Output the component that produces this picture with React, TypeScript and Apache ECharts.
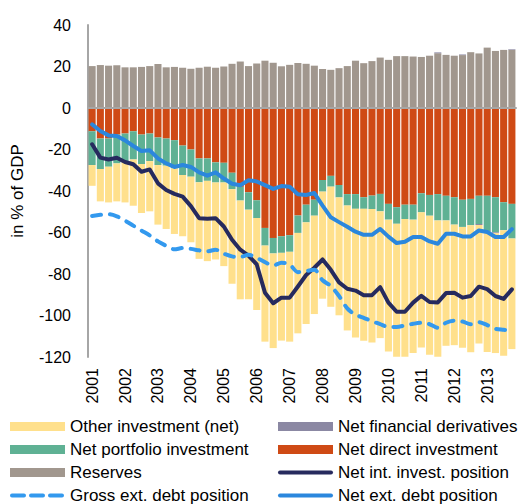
import React, { useEffect, useRef } from "react";
import * as echarts from "echarts";

const years = ["2001", "2002", "2003", "2004", "2005", "2006", "2007", "2008", "2009", "2010", "2011", "2012", "2013"];
const quarterNames = ["Q1", "Q2", "Q3", "Q4"];

const reserves = [
  20.2, 20.7, 20.4, 20.6, 19.6, 19.6, 19.8, 20.2, 21.2, 19.6, 19.8, 19.4, 18.9,
  19.4, 19.9, 19.4, 20.0, 21.3, 22.4, 20.2, 21.5, 22.8, 21.8, 20.1, 20.8, 21.7,
  21.3, 20.4, 18.8, 18.4, 19.2, 20.2, 22.8, 21.6, 22.6, 24.3, 23.2, 25.0, 25.0,
  24.8, 24.6, 25.2, 26.4, 25.6, 25.2, 25.5, 26.9, 26.3, 29.1, 27.5, 28.0, 28.0,
];
const directInvestment = [
  -11.2, -14.7, -14.7, -12.8, -12.3, -11.2, -12.8, -12.3, -14.2, -14.7, -15.5, -18.1, -20.0,
  -24.3, -24.3, -26.2, -26.4, -31.2, -38.0, -40.6, -44.4, -57.8, -62.6, -61.8, -61.3, -51.8,
  -46.6, -44.2, -34.7, -32.7, -37.1, -41.5, -41.5, -43.0, -42.2, -41.4, -46.2, -47.8, -46.6,
  -46.6, -41.1, -41.9, -41.5, -42.3, -43.0, -44.2, -43.8, -42.3, -42.3, -43.0, -45.4, -46.2,
];
const portfolioInvestment = [
  -16.3, -14.7, -13.6, -13.9, -13.6, -13.6, -14.2, -13.3, -13.3, -13.1, -13.6, -14.2, -13.1,
  -11.5, -10.8, -9.7, -9.5, -7.9, -6.6, -8.4, -8.6, -8.5, -7.5, -8.0, -8.0, -8.4,
  -8.5, -7.7, -5.6, -5.2, -6.0, -5.5, -7.1, -5.6, -6.5, -8.4, -7.6, -8.0, -6.9,
  -7.2, -9.2, -10.0, -12.7, -11.9, -13.2, -13.1, -12.7, -13.6, -17.1, -16.9, -13.5, -16.7,
];
const financialDerivatives = [
  0, 0, 0, 0, 0, 0, 0, 0, 0, 0, 0, 0, 0,
  0, 0, 0, 0, 0, 0, 0, 0, 0, 0, 0, 0, 0,
  0, 0, 0, 0, 0, 0, 0, 0, 0, 0, 0, 0, 0,
  0, 0, 0, 0.4, 0, 0, 0.3, 0, -0.5, -0.6, -0.4, 0, 0.3,
];
const otherInvestment = [
  -10.0, -15.6, -17.2, -18.3, -19.6, -22.3, -23.6, -24.2, -28.7, -30.5, -31.6, -29.5, -31.6,
  -36.9, -38.7, -37.1, -40.3, -45.6, -47.6, -43.2, -44.3, -46.3, -45.6, -42.3, -43.3, -48.4,
  -49.0, -47.4, -51.6, -57.9, -56.8, -60.2, -62.0, -63.6, -64.3, -61.1, -63.5, -64.1, -66.4,
  -64.3, -65.1, -67.0, -65.7, -60.4, -58.1, -58.2, -61.2, -57.1, -57.6, -57.8, -60.5, -53.3,
];
const netIntInvestPosition = [
  -17.5, -23.9, -24.8, -24.0, -26.0, -27.1, -30.7, -29.6, -36.3, -39.5, -41.4, -42.7, -47.3,
  -53.1, -53.4, -53.1, -57.1, -63.5, -68.3, -71.1, -75.4, -89.0, -94.1, -91.4, -91.4, -86.0,
  -80.5, -77.0, -73.0, -78.0, -84.0, -87.1, -88.0, -90.2, -90.2, -86.3, -93.8, -98.2, -98.2,
  -93.8, -90.5, -93.5, -93.7, -89.2, -89.0, -91.4, -90.6, -86.1, -87.3, -90.6, -92.0, -87.4,
];
const grossExtDebtPosition = [
  -52.0, -51.5, -51.2, -52.2, -54.3, -56.7, -59.1, -61.4, -64.3, -66.4, -68.1, -67.5, -67.9,
  -68.6, -69.1, -68.3, -70.2, -71.5, -71.8, -70.7, -72.2, -74.3, -75.9, -74.6, -75.4, -79.1,
  -78.6, -78.0, -83.0, -85.8, -90.6, -96.6, -99.6, -101.1, -102.7, -104.2, -105.5, -105.5, -104.8,
  -104.0, -103.5, -104.2, -105.9, -103.5, -102.5, -102.9, -104.2, -103.2, -104.6, -106.4, -106.9, -107.4,
];
const netExtDebtPosition = [
  -7.9, -11.1, -13.2, -13.5, -15.6, -18.3, -20.7, -20.4, -24.3, -26.7, -28.4, -27.5, -28.4,
  -31.0, -32.6, -31.0, -34.0, -36.5, -37.2, -34.8, -35.4, -37.2, -39.0, -37.6, -38.0, -41.6,
  -41.9, -41.0, -47.0, -52.7, -55.0, -57.2, -59.6, -61.1, -61.1, -58.3, -62.0, -65.1, -64.5,
  -62.2, -62.2, -64.3, -65.4, -60.6, -60.6, -61.9, -61.9, -59.0, -59.8, -62.2, -62.2, -58.4,
];

const categories: string[] = [];
years.forEach((y) => quarterNames.forEach((q) => categories.push(y + " " + q)));

const FONT = "'Liberation Sans', Arial, Helvetica, sans-serif";

// legend icons (55 x 9 box), corner moves keep the box proportions
const SOLID_ICON = "path://M0 0M55 9M2 2.5H53A2 2 0 0 1 53 6.5H2A2 2 0 0 1 2 2.5Z";
const DASH_ICON =
  "path://M0 0M55 9M2 2.5H14A2 2 0 0 1 14 6.5H2A2 2 0 0 1 2 2.5ZM21 2.5H33A2 2 0 0 1 33 6.5H21A2 2 0 0 1 21 2.5ZM40 2.5H52A2 2 0 0 1 52 6.5H40A2 2 0 0 1 40 2.5Z";

export default function App() {
  const ref = useRef<HTMLDivElement>(null);
  useEffect(() => {
    if (!ref.current) return;
    const chart = echarts.init(ref.current, null, { renderer: "svg" });
    const barSeries = (name: string, data: number[], color: string) => ({
      name,
      type: "bar",
      stack: "total",
      data,
      barCategoryGap: "14%",
      itemStyle: { color },
      z: 2,
    });
    const lineSeries = (name: string, data: number[], color: string, dashed: boolean) => ({
      name,
      type: "line",
      data,
      symbol: "none",
      smooth: dashed ? 0.3 : false,
      lineStyle: {
        color,
        width: 4,
        type: dashed ? [9, 9] : "solid",
        cap: "round",
        join: "round",
      },
      itemStyle: { color },
      z: 5,
    });
    const legendText = { fontSize: 17, lineHeight: 17, color: "#000", fontFamily: FONT };
    const legendBase = {
      orient: "vertical",
      top: 418,
      padding: 0,
      height: 90,
      itemWidth: 55,
      itemHeight: 9,
      itemGap: 6,
      textStyle: legendText,
    };
    chart.setOption({
      animation: false,
      textStyle: { fontFamily: FONT },
      grid: { left: 88, top: 25, width: 428, height: 332 },
      legend: [
        {
          ...legendBase,
          left: 10,
          data: [
            { name: "Other investment (net)", icon: "rect" },
            { name: "Net portfolio investment", icon: "rect" },
            { name: "Reserves", icon: "rect" },
            { name: "Gross ext. debt position", icon: DASH_ICON, itemStyle: { color: "#3399ee", borderWidth: 0 } },
          ],
        },
        {
          ...legendBase,
          left: 278,
          data: [
            { name: "Net financial derivatives", icon: "rect" },
            { name: "Net direct investment", icon: "rect" },
            { name: "Net int. invest. position", icon: SOLID_ICON, itemStyle: { color: "#262a5e", borderWidth: 0 } },
            { name: "Net ext. debt position", icon: SOLID_ICON, itemStyle: { color: "#2b87dd", borderWidth: 0 } },
          ],
        },
      ],
      xAxis: [
        {
          type: "category",
          data: categories,
          axisLine: { show: false, onZero: false },
          axisTick: { show: false },
          axisLabel: {
            interval: (i: number) => i % 4 === 0,
            formatter: (v: string) => v.slice(0, 4),
            rotate: 90,
            fontSize: 16,
            margin: 11,
            color: "#000",
            fontFamily: FONT,
          },
        },
        {
          type: "category",
          data: categories,
          position: "bottom",
          axisLine: { show: true, onZero: true, lineStyle: { color: "#a6a6a6", width: 2 } },
          axisTick: { show: false },
          axisLabel: { show: false },
          z: 10,
        },
      ],
      yAxis: {
        type: "value",
        min: -120,
        max: 40,
        interval: 20,
        name: "in % of GDP",
        nameLocation: "middle",
        nameGap: 62,
        nameTextStyle: { fontSize: 17, color: "#000", fontFamily: FONT },
        axisLine: { show: true, lineStyle: { color: "#a6a6a6", width: 2 } },
        axisTick: { show: false },
        splitLine: { show: false },
        axisLabel: { fontSize: 16, margin: 17, color: "#000", fontFamily: FONT },
      },
      series: [
        barSeries("Reserves", reserves, "#a1978e"),
        barSeries("Net direct investment", directInvestment, "#cf4a15"),
        barSeries("Net portfolio investment", portfolioInvestment, "#5fb194"),
        barSeries("Net financial derivatives", financialDerivatives, "#8b88a3"),
        barSeries("Other investment (net)", otherInvestment, "#ffe08c"),
        lineSeries("Net int. invest. position", netIntInvestPosition, "#262a5e", false),
        lineSeries("Gross ext. debt position", grossExtDebtPosition, "#3399ee", true),
        lineSeries("Net ext. debt position", netExtDebtPosition, "#2b87dd", false),
      ],
    });
    return () => chart.dispose();
  }, []);
  return (
    <div
      ref={ref}
      style={{ position: "fixed", left: 0, top: 0, width: 530, height: 504, background: "#fff" }}
    />
  );
}
